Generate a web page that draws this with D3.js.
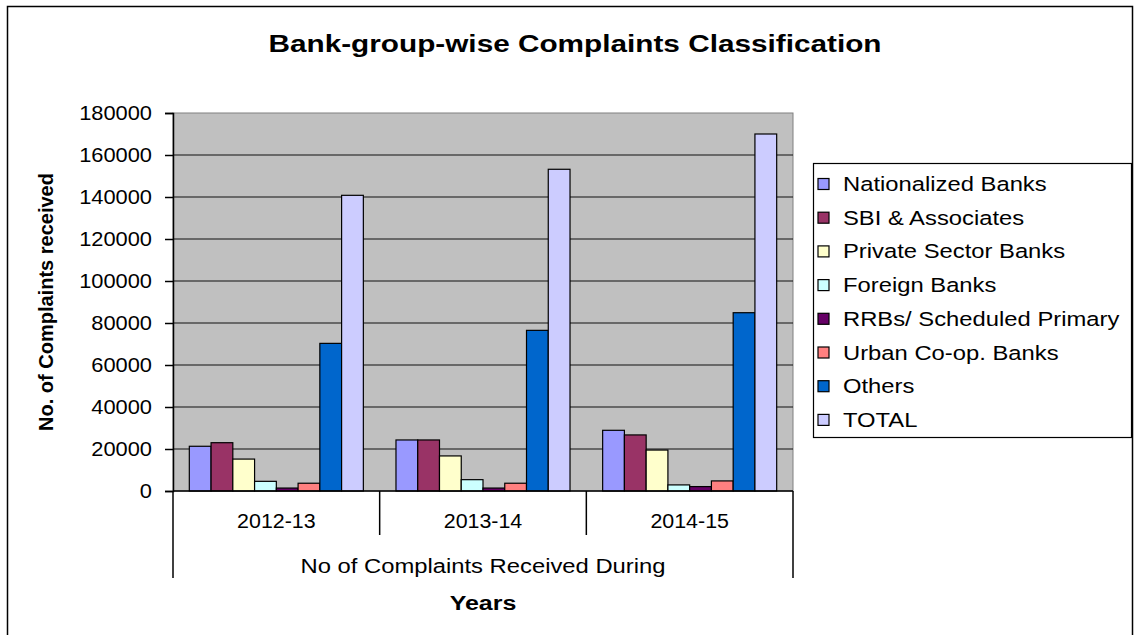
<!DOCTYPE html>
<html>
<head>
<meta charset="utf-8">
<script src="https://cdn.jsdelivr.net/npm/d3@7"></script>
<style>
  body { margin: 0; background: #fff; }
  svg { display: block; font-family: "Liberation Sans", Arial, sans-serif; }
</style>
</head>
<body>
<div id="chart"></div>
<script>
// values
const years = ['2012-13', '2013-14', '2014-15'];
const seriesNames = ['Nationalized Banks', 'SBI & Associates', 'Private Sector Banks', 'Foreign Banks',
  'RRBs/ Scheduled Primary', 'Urban Co-op. Banks', 'Others', 'TOTAL'];
const nationalized = [21300, 24300, 28900];
const sbi = [23000, 24300, 26700];
const privateSector = [15200, 16700, 19500];
const foreign = [4600, 5400, 2900];
const rrbs = [1400, 1400, 2100];
const urbanCoop = [3700, 3700, 4800];
const others = [70300, 76500, 84900];
const total = [140800, 153200, 170000];
const yTicks = [0, 20000, 40000, 60000, 80000, 100000, 120000, 140000, 160000, 180000];

const seriesValues = [nationalized, sbi, privateSector, foreign, rrbs, urbanCoop, others, total];
const colors = ['#9999ff', '#993366', '#ffffcc', '#ccffff', '#660066', '#ff8080', '#0066cc', '#ccccff'];

const W = 1137, H = 635;
const plot = { left: 173, top: 113, right: 793, bottom: 491 };

const svg = d3.select('#chart').append('svg')
  .attr('width', W)
  .attr('height', H);

// the original image is stretched sideways, so text gets a horizontal scale
const label = (parent, x, y, txt, size, sx, opts = {}) => parent.append('text')
  .attr('transform', `translate(${x},${y}) scale(${sx},1)`)
  .attr('text-anchor', opts.anchor || 'middle')
  .style('font-size', size + 'px')
  .style('font-weight', opts.bold ? 'bold' : 'normal')
  .text(txt);

// outer chart border
svg.append('rect')
  .attr('x', 7.5).attr('y', 6.5)
  .attr('width', 1125).attr('height', 640)
  .attr('fill', '#fff')
  .attr('stroke', '#000')
  .attr('stroke-width', 1.5);

// title
label(svg, 575, 52, 'Bank-group-wise Complaints Classification', 24, 1.24, { bold: true });

const x = d3.scaleBand()
  .domain(years)
  .range([plot.left, plot.right])
  .padding(0);

const xInner = d3.scaleBand()
  .domain(seriesNames)
  .range([0, x.bandwidth()])
  .paddingInner(0)
  .paddingOuter(0.75);

const y = d3.scaleLinear()
  .domain([0, 180000])
  .range([plot.bottom, plot.top]);

// plot background
svg.append('rect')
  .attr('x', plot.left).attr('y', plot.top)
  .attr('width', plot.right - plot.left)
  .attr('height', plot.bottom - plot.top)
  .attr('fill', '#c0c0c0')
  .attr('stroke', '#808080')
  .attr('stroke-width', 1);

// gridlines
svg.append('g')
  .selectAll('line')
  .data(yTicks.filter(d => d > 0 && d < 180000))
  .join('line')
  .attr('x1', plot.left).attr('x2', plot.right)
  .attr('y1', d => y(d)).attr('y2', d => y(d))
  .attr('stroke', '#111')
  .attr('stroke-width', 1.2);

// bars
const groups = svg.append('g')
  .selectAll('g')
  .data(years)
  .join('g')
  .attr('transform', d => `translate(${x(d)},0)`);

groups.selectAll('rect')
  .data((yr, i) => seriesNames.map((name, s) => ({ name, s, value: seriesValues[s][i] })))
  .join('rect')
  .attr('x', d => xInner(d.name))
  .attr('y', d => y(d.value))
  .attr('width', xInner.bandwidth())
  .attr('height', d => y(0) - y(d.value))
  .attr('fill', d => colors[d.s])
  .attr('stroke', '#000')
  .attr('stroke-width', 1.2);

// y axis
const yAxis = svg.append('g')
  .attr('transform', `translate(${plot.left},0)`)
  .call(d3.axisLeft(y).tickValues(yTicks).tickSize(8).tickFormat(d3.format('d')));
yAxis.select('.domain').attr('stroke', '#000').attr('stroke-width', 1.5);
yAxis.selectAll('.tick line').attr('stroke', '#000').attr('stroke-width', 1.5);
yAxis.selectAll('.tick text')
  .attr('x', 0)
  .attr('transform', 'translate(-21,0) scale(1.12,1)')
  .style('font-size', '19.5px')
  .style('font-family', '"Liberation Sans", Arial, sans-serif')
  .attr('fill', '#000');

// x axis line and category dividers
svg.append('line')
  .attr('x1', plot.left).attr('x2', plot.right)
  .attr('y1', plot.bottom).attr('y2', plot.bottom)
  .attr('stroke', '#000').attr('stroke-width', 1.5);

const dividers = years.slice(1).map(d => x(d));
svg.append('g')
  .selectAll('line')
  .data(dividers)
  .join('line')
  .attr('x1', d => d).attr('x2', d => d)
  .attr('y1', plot.bottom).attr('y2', 535)
  .attr('stroke', '#000').attr('stroke-width', 1.5);

svg.append('g')
  .selectAll('line')
  .data([plot.left, plot.right])
  .join('line')
  .attr('x1', d => d).attr('x2', d => d)
  .attr('y1', plot.bottom).attr('y2', 578)
  .attr('stroke', '#000').attr('stroke-width', 1.5);

years.forEach(yr => label(svg, x(yr) + x.bandwidth() / 2, 528, yr, 20, 1.07));

label(svg, 483, 573, 'No of Complaints Received During', 20, 1.19);

// axis titles
label(svg, 483, 610, 'Years', 20, 1.25, { bold: true });

svg.append('text')
  .attr('transform', `translate(53,${(plot.top + plot.bottom) / 2}) rotate(-90)`)
  .attr('text-anchor', 'middle')
  .style('font-size', '20px')
  .style('font-weight', 'bold')
  .text('No. of Complaints received');

// legend
const legend = svg.append('g').attr('transform', 'translate(813,163)');
legend.append('rect')
  .attr('x', 0.5).attr('y', 0.5)
  .attr('width', 318).attr('height', 274)
  .attr('fill', '#fff')
  .attr('stroke', '#000')
  .attr('stroke-width', 1.2);

seriesNames.forEach((name, i) => {
  const cy = 21 + i * 33.7;
  legend.append('rect')
    .attr('x', 5).attr('y', cy - 5.5)
    .attr('width', 11).attr('height', 11)
    .attr('fill', colors[i])
    .attr('stroke', '#000')
    .attr('stroke-width', 1.2);
  label(legend, 30, cy + 7, name, 19.5, 1.22, { anchor: 'start' });
});
</script>
</body>
</html>
